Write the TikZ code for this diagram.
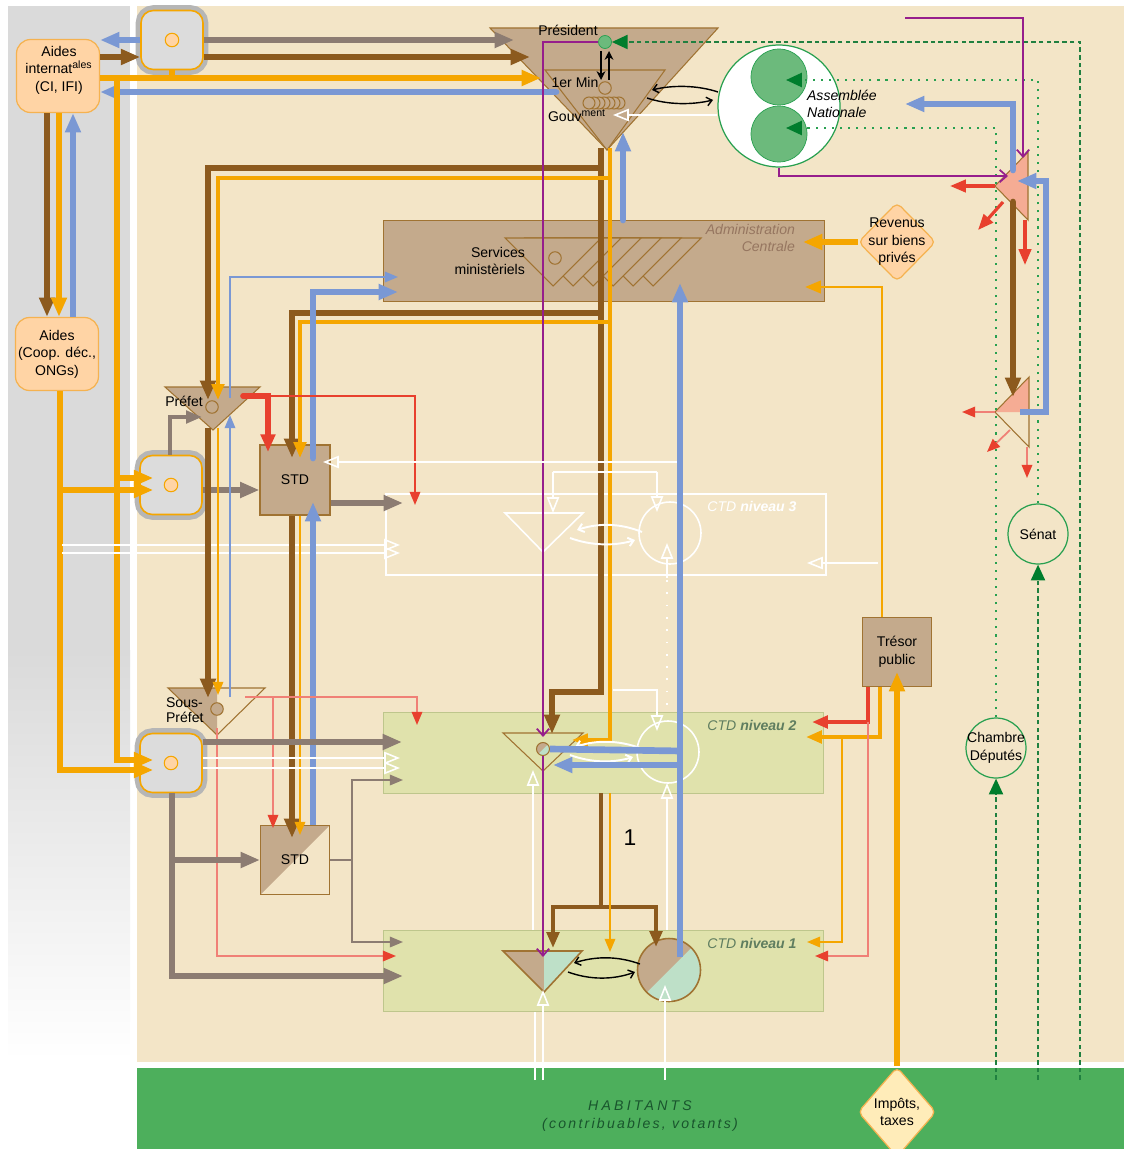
\documentclass[tikz,border=0pt]{standalone}
\usepackage{fontspec}
\setmainfont{Liberation Sans}
\usepackage{xcolor}
\usepackage{tikz}
\usetikzlibrary{shapes.geometric, arrows.meta, positioning, calc}

\definecolor{paper}{RGB}{243,229,199}
\definecolor{panel}{RGB}{218,218,218}
\definecolor{band}{RGB}{77,175,92}
\definecolor{habtxt}{RGB}{25,85,45}
\definecolor{tanfill}{RGB}{196,170,140}
\definecolor{tanline}{RGB}{160,115,50}
\definecolor{brn}{RGB}{140,90,30}
\definecolor{org}{RGB}{245,166,0}
\definecolor{blu}{RGB}{122,152,212}
\definecolor{gry}{RGB}{140,124,114}
\definecolor{hubgray}{RGB}{182,182,182}
\definecolor{hubfill}{RGB}{220,220,220}
\definecolor{rd}{RGB}{232,64,46}
\definecolor{pnk}{RGB}{240,128,118}
\definecolor{prp}{RGB}{150,30,140}
\definecolor{aidfill}{RGB}{255,212,165}
\definecolor{aidline}{RGB}{245,178,80}
\definecolor{impfill}{RGB}{255,236,185}
\definecolor{ctdfill}{RGB}{224,226,172}
\definecolor{ctdline}{RGB}{190,198,140}
\definecolor{ctdtxt}{RGB}{95,125,95}
\definecolor{admtxt}{RGB}{150,118,96}
\definecolor{grnline}{RGB}{40,160,80}
\definecolor{grnfill}{RGB}{108,186,124}
\definecolor{grndark}{RGB}{0,125,45}
\definecolor{salmon}{RGB}{245,172,148}
\definecolor{pale}{RGB}{190,224,200}

\AtBeginDocument{\fontsize{8}{10}\selectfont}

\begin{document}
\begin{tikzpicture}[x=0.02cm, y=-0.02cm,
    every node/.style={inner sep=1pt},
    aidbox/.style={draw=aidline, fill=aidfill, line width=0.7pt, rounded corners=8pt, minimum width=1.66cm, minimum height=1.46cm, align=center},
    hub/.style={draw=org, fill=hubfill, line width=0.9pt, rounded corners=7pt, minimum width=1.24cm, minimum height=1.18cm, preaction={draw=hubgray, line width=6pt}},
    hubdot/.style={circle, draw=org, fill=aidfill, line width=0.6pt, minimum size=0.27cm, inner sep=0pt},
    tanbox/.style={draw=tanline, fill=tanfill, line width=0.6pt, align=center},
    shapeline/.style={draw=tanline, line width=0.6pt},
    smalldot/.style={circle, shapeline, fill=tanfill, minimum size=0.25cm, inner sep=0pt},
    ctdbox/.style={draw=ctdline, fill=ctdfill, line width=0.6pt, anchor=north west, minimum width=8.8cm, minimum height=1.62cm},
    ctdlbl/.style={font=\itshape, text=ctdtxt},
    seat/.style={circle, draw=grnline, line width=0.7pt, minimum size=1.2cm, inner sep=0pt},
    split/.style={path picture={\fill[tanfill] (path picture bounding box.north west) -- (path picture bounding box.north east) -- (path picture bounding box.south west) -- cycle;}},
    fat/.style={line width=3.8pt},
    thk/.style={fat, -{Triangle[length=11pt,width=8.5pt]}},
    med/.style={line width=2.1pt, -{Triangle[length=9pt,width=7pt]}},
    thn/.style={line width=1pt, -{Triangle[length=7.5pt,width=6pt]}},
    pnkarr/.style={pnk, line width=1pt, -{Triangle[length=7.5pt,width=6pt,color=rd]}},
    prparr/.style={prp, line width=1pt, -{Straight Barb[length=4pt,width=7pt]}},
    opn/.style={draw=white, line width=0.9pt, -{Triangle[open,length=9pt,width=7pt]}},
    curv/.style={line width=0.8pt, -{Straight Barb[length=3pt,width=5pt]}},
    grndash/.style={draw=grnline!80!black, line width=1.1pt, dash pattern=on 2.6pt off 1.8pt, -{Triangle[length=9pt,width=8pt,color=grndark]}},
    grndot/.style={draw=grnline, line width=1.2pt, dash pattern=on 1.2pt off 3.4pt, -{Triangle[length=9pt,width=8pt,color=grndark]}},
]
\useasboundingbox (0,0) rectangle (1124,1149);

% Fonds
\fill[panel] (8,6) rectangle (130,650);
\shade[top color=panel, bottom color=white] (8,650) rectangle (130,1060);
\fill[paper] (137,6) rectangle (1124,1062);
\fill[band] (137,1068) rectangle (1124,1149);
\node[font=\itshape, text=habtxt, align=center] (habitants) at (640,1116) {{\addfontfeature{LetterSpace=23}HABITANTS}\\{\addfontfeature{LetterSpace=16}(contribuables, votants)}};

% Aides et points d'entree (gauche)
\node[aidbox] (aidint) at (58,76) {};
\node[align=center] (aidinttxt) at (59,70) {Aides\\internat\textsuperscript{ales}\\(CI, IFI)};
\node[aidbox] (aidcoop) at (57,354) {Aides\\(Coop. déc.,\\ONGs)};
\node[hub] (hubtop) at (172,40) {};
\node[hub] (hubmid) at (171,485) {};
\node[hub] (hublow) at (171,763) {};
\node[hubdot] (dottop) at (hubtop) {};
\node[hubdot] (dotmid) at (hubmid) {};
\node[hubdot] (dotlow) at (hublow) {};

% President et Gouvernement
\draw[shapeline, fill=tanfill] (490,28) -- (718,28) -- (607,150) -- cycle;
\draw[shapeline, fill=tanfill] (545,70) -- (665,70) -- (607,150) -- cycle;
\node (president) at (568,30) {Président};
\node (premier) at (575,82) {1er Min};
\node (gouv) at (577,116) {Gouv\textsuperscript{ment}};
\node[circle, draw=grnline, fill=grnfill, minimum size=0.26cm, inner sep=0pt] (presdot) at (605,42) {};
\node[smalldot] (pmdot) at (605,88) {};
\foreach \cx in {619,614,609,604,599,594,589}
  \draw[shapeline, fill=tanfill] (\cx,103) circle (0.12cm);

% Assemblee Nationale et Parlement
\node[circle, draw=grnline, fill=white, line width=0.7pt, minimum size=2.44cm, inner sep=0pt] (assemblee) at (779,106) {};
\node[circle, draw=grnline, fill=grnfill, minimum size=1.12cm, inner sep=0pt] (deputesA) at (779,77) {};
\node[circle, draw=grnline, fill=grnfill, minimum size=1.12cm, inner sep=0pt] (deputesB) at (779,134) {};
\node[anchor=west, align=left, font=\itshape] (antxt) at (805,104) {Assemblée\\Nationale};
\node[seat] (senat) at (1038,534) {Sénat};
\node[seat] (chambre) at (996,748) {};
\node[align=center] (chambretxt) at (chambre) {Chambre\\Députés};
\fill[salmon] (1028,152) -- (1028,220) -- (995,186) -- cycle;
\draw[shapeline] (1028,152) -- (1028,220) -- (995,186) -- cycle;
\fill[salmon] (1029,377) -- (1029,412) -- (995,412) -- cycle;
\draw[shapeline] (1029,377) -- (1029,447) -- (995,412) -- cycle;

% Administration Centrale
\node[tanbox, anchor=north west, minimum width=8.82cm, minimum height=1.62cm] (admin) at (383,220) {};
\foreach \k in {5,4,...,0}
  \draw[shapeline, fill=tanfill] ({505+20*\k},238) -- ({601+20*\k},238) -- ({553+20*\k},286) -- cycle;
\node[smalldot] (svcdot) at (555,258) {};
\node[anchor=east, align=right] (services) at (527,261) {Services\\ministèriels};
\node[anchor=north east, align=right, font=\itshape, text=admtxt] (admlbl) at (797,222) {Administration\\Centrale};
\node[diamond, draw=aidline, fill=aidfill, line width=0.7pt, minimum width=1.55cm, minimum height=1.58cm, inner sep=0pt, rounded corners=3pt] (revenus) at (897,242) {};
\node[align=center] (revtxt) at (revenus) {Revenus\\sur biens\\privés};

% Prefet, Sous-Prefet, STD
\draw[shapeline, fill=tanfill] (165,387) -- (260,387) -- (213,430) -- cycle;
\node[smalldot] (prefdot) at (212,407) {};
\node (prefet) at (184,401) {Préfet};
\fill[tanfill] (168,688) -- (217,688) -- (217,735) -- cycle;
\draw[shapeline] (168,688) -- (265,688) -- (217,735) -- cycle;
\node[smalldot] (sprefdot) at (217,709) {};
\node[anchor=west, align=left, font=\fontsize{8}{8.5}\selectfont] (sousprefet) at (164,710) {Sous-\\Préfet};
\node[tanbox, minimum size=1.4cm] (stdup) at (295,480) {STD};
\node[draw=tanline, line width=0.6pt, minimum size=1.38cm, split] (stdlow) at (295,860) {STD};

% Collectivites territoriales
\node[ctdbox, draw=white, fill=none, line width=0.9pt] (ctdthree) at (385,493) {};
\node[ctdbox] (ctdtwo) at (383,712) {};
\node[ctdbox] (ctdone) at (383,930) {};
\node[ctdlbl, text=white] (lblthree) at (752,506) {CTD \textbf{niveau 3}};
\node[ctdlbl] (lbltwo) at (752,725) {CTD \textbf{niveau 2}};
\node[ctdlbl] (lblone) at (752,943) {CTD \textbf{niveau 1}};
\draw[white, line width=0.9pt] (505,513) -- (583,513) -- (543,552) -- cycle;
\node[circle, draw=white, line width=0.9pt, minimum size=1.24cm, inner sep=0pt] (circthree) at (670,533) {};
\draw[shapeline] (503,733) -- (583,733) -- (543,771) -- cycle;
\node[circle, draw=white, line width=0.9pt, minimum size=1.24cm, inner sep=0pt] (circtwo) at (668,752) {};
\node[circle, shapeline, fill=pale, minimum size=0.26cm, inner sep=0pt, split] (tridot) at (543,749) {};
\fill[tanfill] (503,951) -- (544,951) -- (544,992) -- cycle;
\fill[pale] (544,951) -- (582,951) -- (544,992) -- cycle;
\draw[shapeline, line width=0.9pt] (503,951) -- (582,951) -- (544,992) -- cycle;
\node[circle, draw=tanline, line width=0.9pt, fill=pale, minimum size=1.26cm, inner sep=0pt, split] (circone) at (669,970) {};
\node[font=\fontsize{13}{13}\selectfont] (one) at (630,838) {1};
\node[tanbox, minimum size=1.38cm] (tresor) at (897,652) {Trésor\\public};
\node[diamond, draw=aidline, fill=impfill, line width=0.7pt, minimum width=1.56cm, minimum height=1.8cm, inner sep=0pt, rounded corners=3pt] (impots) at (897,1112) {};
\node[align=center] (imptxt) at (impots) {Impôts,\\taxes};

% Flux - aides internationales
\draw[blu, thk] (hubtop.west) -- (aidint.east |- hubtop.west);
\draw[brn, thk] (aidint.east |- 0,57) -- (hubtop.west |- 0,57);
\draw[gry, thk] (hubtop.east) -- (514,40);
\draw[brn, thk] (hubtop.east |- 0,57) -- (530,57);
\draw[org, line width=3.4pt] (hubtop.south) -- (hubtop.south |- 0,78);
\draw[org, thk] (aidint.east |- 0,78) -- (541,78);
\draw[blu, thk, line cap=round] (556,92) -- (aidint.east |- 0,92);
\draw[org, thk, shorten >=-8pt] (117,78) -- (117,760) -- (hublow.west |- 0,760);
\draw[org, thk, shorten >=-8pt] (117,478) -- (hubmid.west |- 0,478);
\draw[brn, thk] (aidint.south -| 47,0) -- (aidcoop.north -| 47,0);
\draw[org, thk] (aidint.south -| 59,0) -- (aidcoop.north -| 59,0);
\draw[blu, thk] (aidcoop.north -| 73,0) -- (aidint.south -| 73,0);
\draw[org, thk, shorten >=-8pt] (aidcoop.south -| 60,0) -- (60,770) -- (hublow.west |- 0,770);
\draw[org, thk, shorten >=-8pt] (60,490) -- (hubmid.west |- 0,490);
\draw[opn] (62,545) -- (400,545);
\draw[opn] (62,553) -- (400,553);

% Flux - President / Gouvernement
\draw[brn, thk] (601,148) -- (601,692) -- (552,692) -- (552,734);
\draw[org, med] (610,148) -- (610,740) -- (572,740);
\draw[blu, thk, line cap=round] (admin.north -| 623,0) -- (623,132);
\draw[brn, thk] (601,168) -- (208,168) -- (208,400);
\draw[org, med] (610,178) -- (218,178) -- (218,400);
\draw[brn, thk] (601,313) -- (292,313) -- (292,458);
\draw[org, med] (610,322) -- (300,322) -- (300,458);
\draw[blu, thk, line cap=round] (313,458) -- (313,292) -- (398,292);
\draw[blu, thn] (230,398) -- (230,277) -- (398,277);
\draw[prparr] (presdot.west) -- (543,42) -- (543,737);
\draw[prparr] (tridot.south) -- (543,957);
\draw[line width=1.2pt, -{Stealth[length=5pt,width=5pt]}] (601,51) -- (601,80);
\draw[line width=1.2pt, -{Stealth[length=5pt,width=5pt]}] (609,80) -- (609,51);
\draw[curv] (718,92) .. controls (697,85) and (672,85) .. (652,90);
\draw[curv] (647,98) .. controls (668,105) and (692,105) .. (713,100);
\draw[opn] (assemblee.west |- 0,115) -- (613,115);

% Flux - Prefet et STD
\draw[rd, line width=3.2pt, line cap=round, -{Triangle[length=10pt,width=8pt]}] (243,396) -- (268,396) -- (268,452);
\draw[rd, thn] (268,396) -- (415,396) -- (415,505);
\draw[gry, med] (hubmid.north -| 170,0) -- (170,417) -- (202,417);
\draw[gry, thk] (hubmid.east |- 0,490) -- (stdup.west |- 0,490);
\draw[gry, thk] (stdup.east |- 0,503) -- (403,503);
\draw[brn, thk] (208,428) -- (208,698);
\draw[org, thn] (218,428) -- (218,695);
\draw[blu, thn] (230,697) -- (230,415);
\draw[brn, thk] (stdup.south -| 292,0) -- (292,838);
\draw[org, thn] (stdup.south -| 300,0) -- (300,835);
\draw[blu, thk] (stdlow.north -| 313,0) -- (313,502);
\draw[opn] (680,462) -- (323,462);
\draw[white, line width=0.9pt] (553,472) -- (657,472);
\draw[opn] (553,472) -- (553,513);
\draw[opn] (657,472) -- (657,512);

% Flux - Sous-Prefet
\draw[pnkarr] (245,697) -- (417,697) -- (417,725);
\draw[pnkarr] (273,697) -- (273,828);
\draw[pnkarr] (217,728) -- (217,956) -- (396,956);
\draw[gry, thk] (hublow.east |- 0,742) -- (402,742);
\draw[opn] (hublow.east |- 0,758) -- (400,758);
\draw[opn] (hublow.east |- 0,768) -- (400,768);
\draw[gry, thk] (hublow.south -| 172,0) -- (172,976) -- (403,976);
\draw[gry, thk] (172,860) -- (stdlow.west);
\draw[gry, line width=1pt] (stdlow.east) -- (352,860);
\draw[gry, thn] (352,942) -- (352,780) -- (403,780);
\draw[gry, thn] (352,860) -- (352,942) -- (403,942);

% Flux - internes aux CTD
\draw[white, curv, line width=1.1pt] (642,532) .. controls (620,523) and (598,523) .. (577,530);
\draw[white, curv, line width=1.1pt] (570,538) .. controls (592,546) and (615,546) .. (635,540);
\draw[opn] (667,578) -- (667,543);
\draw[white, line width=1pt, dash pattern=on 1pt off 6pt] (667,580) -- (667,712);
\draw[opn] (878,563) -- (807,563);
\draw[white, curv, line width=1.1pt] (640,748) .. controls (618,740) and (596,740) .. (575,747);
\draw[white, curv, line width=1.1pt] (570,755) .. controls (592,763) and (613,763) .. (633,757);
\draw[blu, fat] (tridot.east) -- (682,751);
\draw[blu, thk] (680,957) -- (680,283);
\draw[blu, thk] (682,765) -- (553,765);
\draw[opn] (613,690) -- (657,690) -- (657,731);
\draw[opn] (533,930) -- (533,770);
\draw[opn] (667,930) -- (667,783);
\draw[brn, line width=2.4pt] (601,793) -- (601,907);
\draw[brn, med, line width=2.4pt] (601,907) -| (553,948);
\draw[brn, med, line width=2.4pt] (601,907) -| (656,947);
\draw[org, thn] (610,793) -- (610,952);
\draw[curv] (640,964) .. controls (618,956) and (596,956) .. (574,963);
\draw[curv] (568,972) .. controls (590,980) and (613,980) .. (635,972);
\draw[opn] (543,1080) -- (543,990);
\draw[white, line width=0.9pt] (535,1080) -- (535,1012);
\draw[opn] (665,1080) -- (665,985);

% Flux - finances
\draw[org, thk] (impots.north) -- (897,672);
\draw[org, med, line width=1.6pt] (tresor.north -| 882,0) -- (882,287) -- (805,287);
\draw[org, thk] (revenus.west) -- (803,242);
\draw[rd, med, line width=2.6pt] (868,687) -- (868,722) -- (812,722);
\draw[org, med, line width=2.6pt] (880,687) -- (880,737) -- (806,737);
\draw[org, thn] (842,737) -- (842,942) -- (807,942);
\draw[pnkarr] (868,722) -- (868,956) -- (815,956);

% Flux - Parlement
\draw[grndash] (1080,1080) -- (1080,42) -- (presdot.east);
\draw[grndash] (1038,1080) -- (senat.south);
\draw[grndash] (996,1080) -- (chambre.south);
\draw[grndot] (senat.north) -- (1038,80) -- (786,80);
\draw[grndot] (chambre.north) -- (996,128) -- (786,128);
\draw[prparr] (905,18) -- (1023,18) -- (1023,158);
\draw[prparr] (assemblee.south) -- (779,176) -- (1008,176);
\draw[blu, thk, line cap=round] (1013,170) -- (1013,104) -- (905,104);
\draw[blu, thk] (1020,412) -- (1046,412) -- (1046,181) -- (1017,181);
\draw[brn, thk, line cap=round] (1013,202) -- (1013,397);
\draw[rd, med, line width=1.8pt] (995,186) -- (950,186);
\draw[rd, med, line width=1.8pt] (1003,202) -- (978,230);
\draw[rd, med, line width=1.8pt] (1025,220) -- (1025,265);
\draw[pnkarr] (995,412) -- (962,412);
\draw[pnkarr] (1010,430) -- (987,452);
\draw[pnkarr] (1027,447) -- (1027,478);

\end{tikzpicture}
\end{document}
